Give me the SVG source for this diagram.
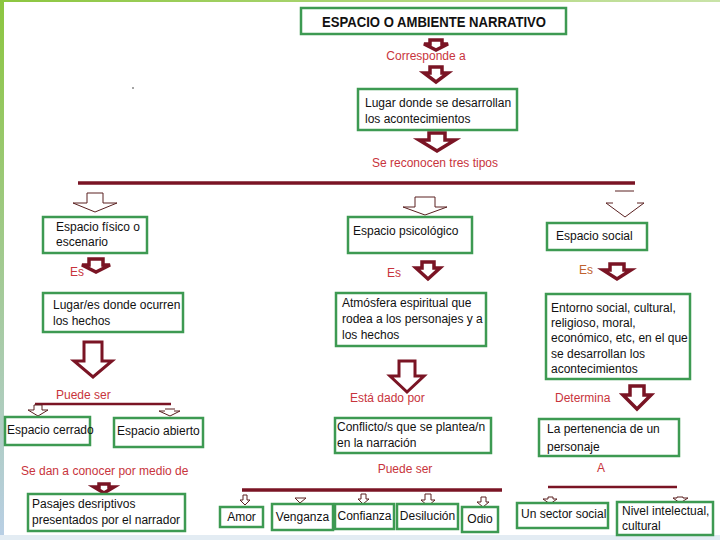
<svg xmlns="http://www.w3.org/2000/svg" width="720" height="540" viewBox="0 0 720 540">
<defs>
<linearGradient id="lg" x1="0" y1="0" x2="0" y2="1"><stop offset="0" stop-color="#8cc63f"/><stop offset="1" stop-color="#b9cfe6"/></linearGradient>
<linearGradient id="tg" x1="0" y1="0" x2="1" y2="0"><stop offset="0" stop-color="#8cc63f"/><stop offset="1" stop-color="#c9e3a8"/></linearGradient>
<style>
.box{fill:#fff;stroke:#3d9a52;stroke-width:2.5}
.t{font-family:"Liberation Sans",Arial,sans-serif;font-size:12px;fill:#111}
.r{font-family:"Liberation Sans",Arial,sans-serif;font-size:12px;fill:#c8343c}
.ta{fill:#fff;stroke:#7a1424;stroke-width:3.5;stroke-linejoin:miter}
.ha{fill:#fff;stroke:#5a2020;stroke-width:1}
.bar{stroke:#7a1424;stroke-width:3.5}
</style>
</defs>
<rect x="0" y="0" width="720" height="540" fill="#fff"/>
<rect x="0" y="0" width="4" height="540" fill="url(#lg)"/>
<rect x="0" y="0" width="720" height="2" fill="url(#tg)"/>
<rect x="0" y="535" width="720" height="5" fill="#e3ecf3"/>
<circle cx="133" cy="88" r="0.8" fill="#333"/>

<g id="connectors">
<path class="ta" d="M430,40 L442,40 L442,44 L448,44 L436,50 L424,44 L430,44 Z"/>
<text class="r" x="426" y="60" text-anchor="middle">Corresponde a</text>
<path class="ta" d="M430,67 L442,67 L442,73 L448,73 L436,82 L424,73 L430,73 Z"/>
<path class="ta" d="M429,133 L445,133 L445,140 L455,140 L437,151 L419,140 L429,140 Z"/>
<text class="r" x="435" y="167" text-anchor="middle">Se reconocen tres tipos</text>
<line class="bar" x1="78" y1="183" x2="635" y2="183"/>
<path class="ha" d="M87,193 L103,193 L103,203 L117,203 L95,212 L73,203 L87,203 Z"/>
<path class="ha" d="M415,197 L435,197 L435,207 L447,207 L425,215 L403,207 L415,207 Z"/>
<line x1="615" y1="191" x2="634" y2="191" stroke="#5a2020" stroke-width="1"/>
<path class="ha" style="fill:none" d="M613,203 L606,203 L625,217 L644,203 L637,203"/>
<text class="r" x="70" y="276">Es</text>
<path class="ta" d="M89,259 L103,259 L103,265 L110,265 L96,272 L82,265 L89,265 Z"/>
<text class="r" x="387" y="277">Es</text>
<path class="ta" d="M422,262 L434,262 L434,268 L440,268 L428,279 L416,268 L422,268 Z"/>
<text class="r" x="579" y="274" style="fill:#c0622e">Es</text>
<path class="ta" d="M610,264 L624,264 L624,270 L631,270 L617,279 L603,270 L610,270 Z"/>
<path class="ta" style="stroke-width:3" d="M84,342 L102,342 L102,361 L112,361 L93,377 L74,361 L84,361 Z"/>
<text class="r" x="56" y="399">Puede ser</text>
<path class="ta" style="stroke-width:3" d="M399,361 L415,361 L415,376 L424,376 L407,392 L390,376 L399,376 Z"/>
<text class="r" x="350" y="402">Está dado por</text>
<text class="r" x="555" y="402">Determina</text>
<path class="ta" d="M630,386 L644,386 L644,395 L651,395 L637,409 L623,395 L630,395 Z"/>
<line class="bar" style="stroke-width:2.5" x1="35" y1="404" x2="171" y2="404"/>
<path class="ha" d="M34,405 L42,405 L42,410 L48,410 L38,416 L28,410 L34,410 Z"/>
<line x1="165" y1="409" x2="175" y2="409" stroke="#5a2020" stroke-width="1"/>
<path class="ha" style="fill:none" d="M165,411 L159,411 L170,416 L180,411 L174,411"/>
<text class="r" x="21" y="475">Se dan a conocer por medio de</text>
<path class="ta" d="M99,484 L109,484 L109,487 L114,487 L104,493 L94,487 L99,487 Z"/>
<text class="r" x="405" y="473" text-anchor="middle">Puede ser</text>
<line class="bar" x1="242" y1="490" x2="502" y2="490"/>
<path class="ha" d="M243,495 L247,495 L247,500 L250,500 L245,505 L240,500 L243,500 Z"/>
<path class="ha" d="M295,498 L300,503 L306,498 Z"/>
<path class="ha" d="M361,494 L366,494 L366,499 L369,499 L363,504 L358,499 L361,499 Z"/>
<path class="ha" d="M425,494 L431,494 L431,500 L435,500 L428,506 L421,500 L425,500 Z"/>
<path class="ha" d="M481,497 L486,497 L486,502 L489,502 L483,507 L477,502 L481,502 Z"/>
<text class="r" x="601" y="472" text-anchor="middle">A</text>
<line class="bar" style="stroke-width:2.5" x1="548" y1="487" x2="677" y2="487"/>
<path class="ha" d="M548,497 L553,497 L553,499 L557,499 L550,504 L543,499 L548,499 Z"/>
<path class="ha" d="M677,497 L683,497 L683,498 L688,498 L680,503 L673,498 L677,498 Z"/>
</g>

<g id="n-title"><rect class="box" x="301" y="8" width="265" height="26"/><text class="t" x="434" y="27" text-anchor="middle" style="font-weight:bold;font-size:14px" textLength="224" lengthAdjust="spacingAndGlyphs">ESPACIO O AMBIENTE NARRATIVO</text></g>
<g id="n-lugar"><rect class="box" x="358" y="89" width="159" height="41"/><text class="t" x="365" y="107">Lugar donde se desarrollan</text><text class="t" x="365" y="123">los acontecimientos</text></g>
<g id="n-fisico"><rect class="box" x="43" y="217" width="104" height="36"/><text class="t" x="56" y="231">Espacio físico o</text><text class="t" x="56" y="246">escenario</text></g>
<g id="n-psico"><rect class="box" x="348" y="217" width="124" height="36"/><text class="t" x="353" y="235">Espacio psicológico</text></g>
<g id="n-social"><rect class="box" x="547" y="223" width="100" height="27"/><text class="t" x="556" y="240">Espacio social</text></g>
<g id="n-lugares"><rect class="box" x="43" y="293" width="140" height="39"/><text class="t" x="53" y="309">Lugar/es donde ocurren</text><text class="t" x="53" y="325">los hechos</text></g>
<g id="n-atmos"><rect class="box" x="336" y="293" width="150" height="53"/><text class="t" x="342" y="307">Atmósfera espiritual que</text><text class="t" x="342" y="323">rodea a los personajes y a</text><text class="t" x="342" y="339">los hechos</text></g>
<g id="n-entorno"><rect class="box" x="546" y="294" width="144" height="85"/><text class="t" x="551" y="312">Entorno social, cultural,</text><text class="t" x="551" y="327">religioso, moral,</text><text class="t" x="551" y="342">económico, etc, en el que</text><text class="t" x="551" y="358">se desarrollan los</text><text class="t" x="551" y="373">acontecimientos</text></g>
<g id="n-cerrado"><rect class="box" x="5" y="417" width="85" height="28"/><text class="t" x="7" y="434">Espacio cerrado</text></g>
<g id="n-abierto"><rect class="box" x="114" y="418" width="89" height="29"/><text class="t" x="117" y="435">Espacio abierto</text></g>
<g id="n-conflicto"><rect class="box" x="335" y="418" width="156" height="35"/><text class="t" x="337" y="431">Conflicto/s que se plantea/n</text><text class="t" x="337" y="447">en la narración</text></g>
<g id="n-pertenencia"><rect class="box" x="539" y="419" width="140" height="37"/><text class="t" x="547" y="433">La pertenencia de un</text><text class="t" x="547" y="451">personaje</text></g>
<g id="n-pasajes"><rect class="box" x="28" y="494" width="157" height="37"/><text class="t" x="32" y="508">Pasajes desriptivos</text><text class="t" x="32" y="524">presentados por el narrador</text></g>
<g id="n-amor"><rect class="box" x="220" y="507" width="43" height="20"/><text class="t" x="241.5" y="521" text-anchor="middle">Amor</text></g>
<g id="n-venganza"><rect class="box" x="272" y="504" width="61" height="26"/><text class="t" x="302.5" y="521" text-anchor="middle">Venganza</text></g>
<g id="n-confianza"><rect class="box" x="335" y="504" width="59" height="25"/><text class="t" x="364.5" y="520" text-anchor="middle">Confianza</text></g>
<g id="n-desilucion"><rect class="box" x="397" y="504" width="61" height="25"/><text class="t" x="427.5" y="520" text-anchor="middle">Desilución</text></g>
<g id="n-odio"><rect class="box" x="462" y="507" width="36" height="25"/><text class="t" x="480" y="523" text-anchor="middle">Odio</text></g>
<g id="n-sector"><rect class="box" x="517" y="503" width="91" height="25"/><text class="t" x="521" y="518">Un sector social</text></g>
<g id="n-nivel"><rect class="box" x="617" y="502" width="96" height="33"/><text class="t" x="622" y="515">Nivel intelectual,</text><text class="t" x="622" y="530">cultural</text></g>
</svg>
